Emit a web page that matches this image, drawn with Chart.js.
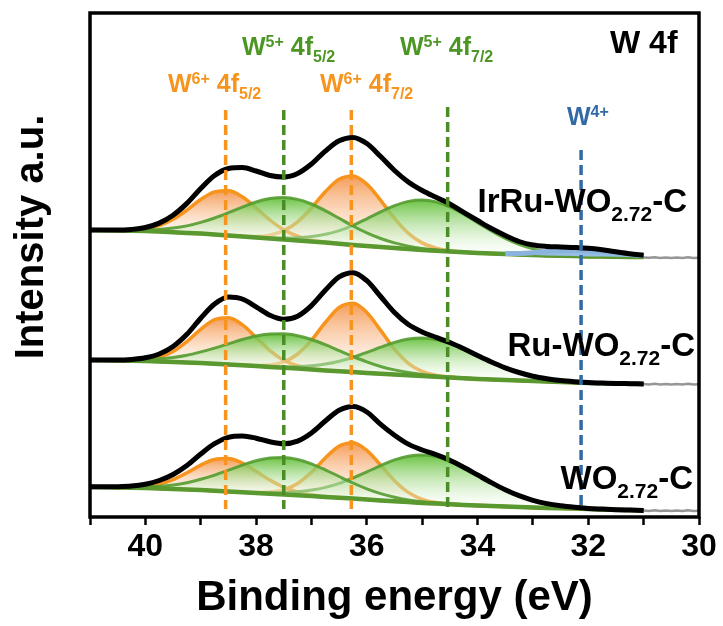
<!DOCTYPE html>
<html>
<head>
<meta charset="utf-8">
<script src="https://cdn.jsdelivr.net/npm/chart.js@4.4.1/dist/chart.umd.min.js"></script>
<style>
  html, body { margin: 0; padding: 0; background: #fff; }
</style>
</head>
<body>
<canvas id="xps" width="723" height="626"></canvas>
<script>
// binding energy grid (eV)
const energies = [41, 40.75, 40.5, 40.25, 40, 39.75, 39.5, 39.25, 39, 38.75, 38.5, 38.25, 38, 37.75, 37.5, 37.25, 37, 36.75, 36.5, 36.25, 36, 35.75, 35.5, 35.25, 35, 34.75, 34.5, 34.25, 34, 33.75, 33.5, 33.25, 33, 32.75, 32.5, 32.25, 32, 31.75, 31.5, 31.25, 31]

// background lines (offset stacked intensity, a.u.)
const irruBase = [287, 286.8, 286.5, 286.3, 286, 285.4, 284.8, 284.1, 283.5, 282.5, 281.5, 280.5, 279.5, 278.5, 277.5, 276.5, 275.5, 274.4, 273.2, 272.1, 271, 270, 269, 268, 267, 266.2, 265.5, 264.7, 264, 263.5, 263, 262.5, 262, 261.6, 261.2, 260.9, 260.5, 260.4, 260.2, 260.1, 260]
const ruBase = [157, 156.8, 156.5, 156.3, 156, 155.5, 155, 154.5, 154, 153.3, 152.5, 151.8, 151, 150.1, 149.2, 148.4, 147.5, 146.6, 145.8, 144.9, 144, 143.2, 142.5, 141.8, 141, 140.3, 139.5, 138.8, 138, 137.5, 137, 136.5, 136, 135.5, 135, 134.5, 134, 133.8, 133.5, 133.3, 133]
const woBase = [30, 29.8, 29.5, 29.3, 29, 28.5, 28, 27.5, 27, 26.3, 25.5, 24.8, 24, 23.3, 22.5, 21.8, 21, 20.1, 19.2, 18.4, 17.5, 16.6, 15.8, 14.9, 14, 13.4, 12.8, 12.1, 11.5, 11, 10.5, 10, 9.5, 9.1, 8.8, 8.4, 8, 7.6, 7.2, 6.9, 6.5]

// IrRu-WO2.72-C components (height above background)
const irruW6a = [0, 0, 0.2, 0.8, 2.4, 6.1, 12.9, 22.8, 34, 42.6, 44.8, 39.7, 29.6, 18.5, 9.7, 4.3, 1.6, 0.5, 0.1, 0, 0, 0, 0, 0, 0, 0, 0, 0, 0, 0, 0, 0, 0, 0, 0, 0, 0, 0, 0, 0, 0]
const irruW5a = [0.1, 0.1, 0.2, 0.5, 1.1, 2.2, 4.1, 7, 11.1, 16.5, 22.8, 29.4, 35.5, 39.9, 42, 41.1, 37.5, 32, 25.5, 18.9, 13.1, 8.5, 5.1, 2.9, 1.5, 0.7, 0.3, 0.1, 0, 0, 0, 0, 0, 0, 0, 0, 0, 0, 0, 0, 0]
const irruW6b = [0, 0, 0, 0, 0, 0, 0, 0, 0, 0, 0, 0.3, 1.1, 3.4, 8.8, 18.7, 33.6, 50.8, 64.5, 68.9, 61.9, 46.7, 29.7, 15.8, 7.1, 2.7, 0.8, 0.2, 0, 0, 0, 0, 0, 0, 0, 0, 0, 0, 0, 0, 0]
const irruW5b = [0, 0, 0, 0, 0, 0, 0, 0, 0, 0, 0, 0.1, 0.3, 0.7, 1.4, 2.7, 4.9, 8.3, 13.2, 19.6, 27.2, 35.1, 42.3, 47.6, 50, 48.9, 44.7, 38.1, 30.4, 22.5, 15.6, 10.1, 6.1, 3.4, 1.8, 0.9, 0.4, 0.2, 0, 0, 0]
const irruW4 = [0, 0, 0, 0, 0, 0, 0, 0, 0, 0, 0, 0, 0, 0, 0, 0, 0, 0, 0, 0, 0, 0, 0, 0, 0, 0, 0, 0, 0, 0, 0.5, 1.1, 2.3, 3.9, 5, 5.6, 5.6, 5, 3.8, 2.4, 1.2]
const irruFit = [0.1, 0.1, 0.4, 1.3, 3.5, 8.5, 17, 29.5, 45, 59, 67, 69, 66.5, 63, 62.5, 67, 77.5, 91.5, 103, 107.5, 102.5, 90.5, 77.5, 67, 59.5, 53.5, 47.5, 40, 32.5, 25, 18.5, 13, 10, 9, 8.8, 8.6, 8.2, 6.8, 5, 3.2, 1.8]

// Ru-WO2.72-C components
const ruW6a = [0, 0, 0, 0.4, 1.5, 4.4, 10.6, 20.9, 33.7, 44, 46.8, 40.5, 28.5, 16.3, 7.6, 2.9, 0.9, 0.2, 0, 0, 0, 0, 0, 0, 0, 0, 0, 0, 0, 0, 0, 0, 0, 0, 0, 0, 0, 0, 0, 0, 0]
const ruW5a = [0.1, 0.2, 0.4, 0.8, 1.5, 2.7, 4.6, 7.3, 11.1, 15.6, 20.6, 25.7, 30, 32.9, 34, 32.9, 30, 25.7, 20.6, 15.6, 11.1, 7.3, 4.6, 2.7, 1.5, 0.8, 0.4, 0.2, 0.1, 0, 0, 0, 0, 0, 0, 0, 0, 0, 0, 0, 0]
const ruW6b = [0, 0, 0, 0, 0, 0, 0, 0, 0, 0, 0, 0, 0.5, 1.9, 5.9, 14.6, 29.3, 47.9, 63.7, 68.9, 60.6, 43.4, 25.3, 11.9, 4.6, 1.4, 0.4, 0, 0, 0, 0, 0, 0, 0, 0, 0, 0, 0, 0, 0, 0]
const ruW5b = [0, 0, 0, 0, 0, 0, 0, 0, 0, 0, 0, 0, 0.2, 0.5, 1, 2, 3.7, 6.3, 10, 14.9, 20.6, 26.6, 32.1, 36.1, 38, 37.2, 34, 29, 23.1, 17.1, 11.9, 7.7, 4.6, 2.6, 1.4, 0.7, 0.3, 0.1, 0, 0, 0]
const ruFit = [0.1, 0.2, 0.4, 1.2, 3.2, 7.5, 15.5, 28.2, 44.8, 59.6, 67.4, 66.2, 59.2, 51.6, 48.5, 52.4, 63.9, 80.1, 94.3, 99.4, 92.3, 77.3, 62, 50.7, 44.1, 39.4, 35, 29.5, 23.5, 17.5, 12.2, 8, 4.8, 2.8, 1.5, 0.8, 0.4, 0.2, 0.1, 0, 0]

// WO2.72-C components
const woW6a = [0, 0, 0.2, 0.6, 1.8, 4.5, 9.4, 16.7, 24.9, 31.2, 32.9, 29.1, 21.7, 13.6, 7.1, 3.2, 1.2, 0.4, 0.1, 0, 0, 0, 0, 0, 0, 0, 0, 0, 0, 0, 0, 0, 0, 0, 0, 0, 0, 0, 0, 0, 0]
const woW5a = [0, 0.1, 0.3, 0.6, 1.2, 2.2, 4, 6.8, 10.7, 15.6, 21.3, 27.1, 32.2, 35.7, 37, 35.7, 32.2, 27.1, 21.3, 15.6, 10.7, 6.8, 4, 2.2, 1.2, 0.6, 0.3, 0.1, 0, 0, 0, 0, 0, 0, 0, 0, 0, 0, 0, 0, 0]
const woW6b = [0, 0, 0, 0, 0, 0, 0, 0, 0, 0, 0, 0, 0.4, 1.6, 4.8, 11.8, 23.7, 38.9, 51.7, 55.9, 49.2, 35.2, 20.5, 9.7, 3.7, 1.2, 0.3, 0, 0, 0, 0, 0, 0, 0, 0, 0, 0, 0, 0, 0, 0]
const woW5b = [0, 0, 0, 0, 0, 0, 0, 0, 0, 0, 0, 0, 0.5, 1, 1.9, 3.4, 5.9, 9.5, 14.4, 20.6, 27.6, 34.8, 41.3, 45.9, 47.9, 47, 43.4, 37.6, 30.6, 23.4, 16.8, 11.3, 7.2, 4.3, 2.4, 1.3, 0.6, 0.3, 0.1, 0, 0]
const woFit = [0.2, 0.4, 0.8, 1.6, 3.8, 8, 14.5, 24, 36, 47, 54.2, 56.2, 54.8, 51.9, 50.8, 54.1, 63, 75.9, 87.5, 92.1, 87.5, 76, 66, 58, 53, 49, 44, 37.7, 30.6, 23.4, 16.8, 11.3, 7.2, 4.3, 2.4, 1.3, 0.6, 0.3, 0.1, 0, 0]

// raw data beyond the fitted window
const tailEnergies = [31, 30.9, 30.8, 30.7, 30.6, 30.5, 30.4, 30.3, 30.2, 30.1, 30]
const irruTail = [259.5, 259.2, 259.8, 259, 259.6, 258.9, 259.4, 259.1, 259.7, 259, 259.3]
const ruTail = [133, 132.6, 133.2, 132.5, 133.1, 132.4, 132.9, 132.6, 133.2, 132.5, 132.8]
const woTail = [6.5, 6.1, 6.8, 6, 6.6, 5.9, 6.4, 6.1, 6.7, 6, 6.3]

// peak position markers
const markerEnergies = [38.55, 37.5, 36.28, 34.54, 32.13]
const markerTops = [407, 407, 407, 410, 367]
const markerBottom = 8

const FONT = "'Liberation Sans', Arial, sans-serif"
const NARROW = "'Liberation Sans Narrow', 'Arial Narrow', 'Liberation Sans', Arial, sans-serif"
const ORANGE = 'rgb(247,148,30)'
const GREEN = 'rgb(76,150,36)'
const BLUE = 'rgb(50,106,166)'

function stack(base, comp) {
  return energies.map((e, i) => ({ x: e, y: base[i] + comp[i] }))
}

function fade(base, comp, topColor, bottomColor) {
  let k = 0
  comp.forEach((v, i) => { if (v > comp[k]) k = i })
  const top = base[k] + comp[k]
  const bottom = base[k]
  return (context) => {
    const chart = context.chart
    if (!chart.chartArea) return topColor
    const y = chart.scales.y
    const g = chart.ctx.createLinearGradient(0, y.getPixelForValue(top), 0, y.getPixelForValue(bottom))
    g.addColorStop(0, topColor)
    g.addColorStop(1, bottomColor)
    return g
  }
}

const datasets = []

function addSpectrum(name, base, orange, green, blue, fit, tail) {
  const baseIndex = datasets.length
  datasets.push({
    label: name + ' background',
    data: energies.map((e, i) => ({ x: e, y: base[i] })),
    borderColor: 'rgb(90,152,48)',
    borderWidth: 4.5,
    pointRadius: 0,
    fill: false,
    order: 10
  })
  orange.forEach(comp => {
    datasets.push({
      label: name + ' W6+',
      data: stack(base, comp),
      borderColor: ORANGE,
      borderWidth: 3.5,
      backgroundColor: fade(base, comp, 'rgba(243,146,70,0.9)', 'rgba(255,238,225,0.35)'),
      pointRadius: 0,
      cubicInterpolationMode: 'monotone',
      fill: baseIndex,
      order: 30
    })
  })
  green.forEach(comp => {
    datasets.push({
      label: name + ' W5+',
      data: stack(base, comp),
      borderColor: 'rgba(84,156,48,0.9)',
      borderWidth: 3,
      backgroundColor: fade(base, comp, 'rgba(100,192,58,0.95)', 'rgba(238,250,233,0.35)'),
      pointRadius: 0,
      cubicInterpolationMode: 'monotone',
      fill: baseIndex,
      order: 20
    })
  })
  if (blue) {
    // only the part of the W4+ doublet that rises above the background
    datasets.push({
      label: name + ' W4+',
      data: stack(base, blue).filter((p, i) => blue[i] > 0),
      borderColor: 'rgba(138,180,220,1)',
      borderWidth: 5,
      backgroundColor: 'rgba(150,190,228,1)',
      pointRadius: 0,
      cubicInterpolationMode: 'monotone',
      fill: baseIndex,
      order: 8
    })
  }
  datasets.push({
    label: name + ' raw',
    data: tailEnergies.map((e, i) => ({ x: e, y: tail[i] })),
    borderColor: 'rgb(150,150,150)',
    borderWidth: 2.5,
    pointRadius: 0,
    fill: false,
    order: 6
  })
  datasets.push({
    label: name + ' fit',
    data: stack(base, fit),
    borderColor: '#000',
    borderWidth: 5,
    pointRadius: 0,
    cubicInterpolationMode: 'monotone',
    fill: false,
    order: 5
  })
}

addSpectrum('IrRu-WO2.72-C', irruBase, [irruW6a, irruW6b], [irruW5a, irruW5b], irruW4, irruFit, irruTail)
addSpectrum('Ru-WO2.72-C', ruBase, [ruW6a, ruW6b], [ruW5a, ruW5b], null, ruFit, ruTail)
addSpectrum('WO2.72-C', woBase, [woW6a, woW6b], [woW5a, woW5b], null, woFit, woTail)

const markerColors = [ORANGE, 'rgb(74,140,38)', ORANGE, 'rgb(74,140,38)', BLUE]
markerEnergies.forEach((e, i) => {
  datasets.push({
    label: 'marker ' + e,
    data: [{ x: e, y: markerTops[i] }, { x: e, y: markerBottom }],
    borderColor: markerColors[i],
    borderWidth: 3.5,
    borderDash: [10, 5],
    pointRadius: 0,
    fill: false,
    order: 1
  })
})

function drawRich(ctx, parts, x, y, size, color, anchor) {
  const small = Math.round(size * 0.64)
  const fontOf = s => `bold ${s}px ${FONT}`
  let w = 0
  parts.forEach(p => {
    ctx.font = fontOf(p[1] ? small : size)
    w += ctx.measureText(p[0]).width
  })
  let cx = anchor === 'right' ? x - w : x
  ctx.fillStyle = color
  ctx.textAlign = 'left'
  ctx.textBaseline = 'alphabetic'
  parts.forEach(p => {
    ctx.font = fontOf(p[1] ? small : size)
    const dy = p[1] === 'sup' ? -size * 0.33 : p[1] === 'sub' ? size * 0.26 : 0
    ctx.fillText(p[0], cx, y + dy)
    cx += ctx.measureText(p[0]).width
  })
}

const decorations = {
  id: 'decorations',
  afterDraw(chart) {
    const { ctx, chartArea: a } = chart
    ctx.save()
    // frame
    ctx.setLineDash([])
    ctx.strokeStyle = '#000'
    ctx.lineWidth = 3.5
    ctx.strokeRect(a.left, a.top, a.right - a.left, a.bottom - a.top)

    // y title
    ctx.save()
    ctx.translate(32, 237)
    ctx.rotate(-Math.PI / 2)
    ctx.font = `bold 40px ${FONT}`
    ctx.fillStyle = '#000'
    ctx.textAlign = 'center'
    ctx.textBaseline = 'middle'
    ctx.fillText('Intensity a.u.', 0, 0)
    ctx.restore()

    // peak labels
    drawRich(ctx, [['W'], ['6+', 'sup'], [' 4f'], ['5/2', 'sub']], 168, 92, 25, ORANGE)
    drawRich(ctx, [['W'], ['5+', 'sup'], [' 4f'], ['5/2', 'sub']], 242, 55, 25, GREEN)
    drawRich(ctx, [['W'], ['6+', 'sup'], [' 4f'], ['7/2', 'sub']], 320, 92, 25, ORANGE)
    drawRich(ctx, [['W'], ['5+', 'sup'], [' 4f'], ['7/2', 'sub']], 400, 55, 25, GREEN)
    drawRich(ctx, [['W'], ['4+', 'sup']], 567, 125, 25, BLUE)
    drawRich(ctx, [['W 4f']], 610, 53, 32, '#000')

    // sample labels
    drawRich(ctx, [['IrRu-WO'], ['2.72', 'sub'], ['-C']], 687, 212, 33, '#000', 'right')
    drawRich(ctx, [['Ru-WO'], ['2.72', 'sub'], ['-C']], 695, 356, 33, '#000', 'right')
    drawRich(ctx, [['WO'], ['2.72', 'sub'], ['-C']], 693, 489, 33, '#000', 'right')
    ctx.restore()
  }
}

new Chart(document.getElementById('xps'), {
  type: 'line',
  data: { datasets },
  options: {
    responsive: false,
    animation: false,
    layout: { padding: { left: 90, right: 24, top: 13, bottom: 0 } },
    plugins: {
      legend: { display: false },
      tooltip: { enabled: false }
    },
    scales: {
      x: {
        type: 'linear',
        min: 30,
        max: 41,
        reverse: true,
        border: { display: false },
        grid: { drawOnChartArea: false, tickLength: 8, tickWidth: 2.5, tickColor: '#000' },
        ticks: {
          stepSize: 1,
          autoSkip: false,
          maxRotation: 0,
          padding: 3,
          color: '#000',
          font: { family: NARROW, size: 32, weight: 'bold' },
          callback: v => (v % 2 === 0 ? v : '')
        },
        title: {
          display: true,
          text: 'Binding energy (eV)',
          color: '#000',
          font: { family: FONT, size: 42, weight: 'bold' },
          padding: { top: 0, bottom: 2 }
        },
        afterFit(scale) {
          scale.height = 109
        }
      },
      y: {
        type: 'linear',
        min: 0,
        max: 504,
        display: false
      }
    }
  },
  plugins: [decorations]
})
</script>
</body>
</html>
